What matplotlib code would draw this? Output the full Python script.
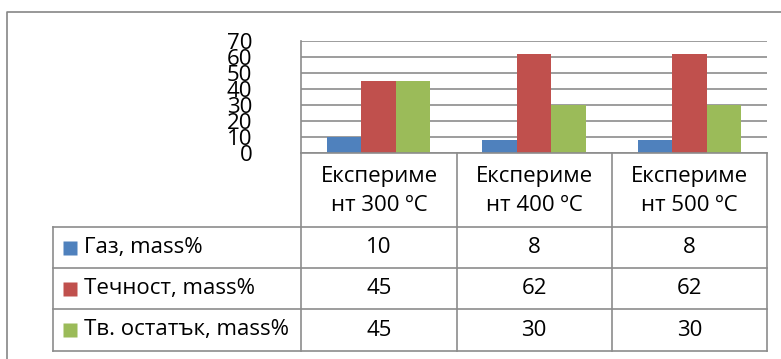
import matplotlib
matplotlib.use("Agg")
import matplotlib.pyplot as plt
from matplotlib.lines import Line2D

#data for the chart
categories = ["Експериме\nнт 300 ºC", "Експериме\nнт 400 ºC", "Експериме\nнт 500 ºC"]
series_names = ["Газ, mass%", "Течност, mass%", "Тв. остатък, mass%"]
gas = [10, 8, 8]
liquid = [45, 62, 62]
solid = [45, 30, 30]
colors = ["#4F81BD", "#C0504D", "#9BBB59"]
y_ticks = [0, 10, 20, 30, 40, 50, 60, 70]

plt.rcParams['font.family'] = ['Open Sans', 'DejaVu Sans']
W, H = 781, 359
grey = "#8c8c8c"

fig = plt.figure(figsize=(W / 100, H / 100), dpi=100)

def px_box(x0, y0, x1, y1):
    #pixel box (top-left origin) to figure fraction
    return [x0 / W, 1 - y1 / H, (x1 - x0) / W, (y1 - y0) / H]

#outer frame of the chart area
fig.add_artist(Line2D([7.5 / W, 7.5 / W, 1], [0, 1 - 12 / H, 1 - 12 / H],
                      transform=fig.transFigure, color="#868686", lw=1.2))

#bar chart
ax = fig.add_axes(px_box(301, 41, 767, 153))
values = [gas, liquid, solid]
bw = 0.222
for i in range(3):
    xs = [c + 0.5 + (i - 1) * bw for c in range(3)]
    ax.bar(xs, values[i], width=bw, color=colors[i], zorder=3)
ax.set_xlim(0, 3)
ax.set_ylim(0, 70)
ax.set_yticks(y_ticks)
ax.set_yticklabels([str(v) for v in y_ticks], fontsize=16)
ax.tick_params(axis="y", length=0, pad=35)
ax.set_xticks([])
ax.yaxis.grid(True, color=grey, lw=1.2)
for s in ["top", "right", "bottom"]:
    ax.spines[s].set_visible(False)
ax.spines["left"].set_color(grey)
ax.spines["left"].set_linewidth(1.2)

#data table under the bars
tb = fig.add_axes(px_box(53, 153, 767, 351))
left = -248 / 155
tb.set_xlim(left, 3)
tb.set_ylim(198, 0)
tb.axis("off")
rows = [0, 74, 115, 156, 198]
tb.plot([0, 3], [0, 0], color=grey, lw=1.2, clip_on=False)
for y in rows[1:]:
    tb.plot([left, 3], [y, y], color=grey, lw=1.2, clip_on=False)
tb.plot([left, left], [74, 198], color=grey, lw=1.2, clip_on=False)
for x in range(4):
    tb.plot([x, x], [0, 198], color=grey, lw=1.2, clip_on=False)

fs = 16
for c, name in enumerate(categories):
    tb.text(c + 0.5, 38, name, ha="center", va="center", fontsize=fs, linespacing=1.5)

for r, name in enumerate(series_names):
    yc = (rows[r + 1] + rows[r + 2]) / 2
    tb.plot(left + 17 / 155, yc, marker="s", ms=10, color=colors[r], mec="none", clip_on=False)
    tb.text(left + 31 / 155, yc, name, ha="left", va="center", fontsize=fs)
    for c in range(3):
        tb.text(c + 0.5, yc, str(values[r][c]), ha="center", va="center", fontsize=fs)

fig.savefig("out.png", dpi=100, facecolor="white")
